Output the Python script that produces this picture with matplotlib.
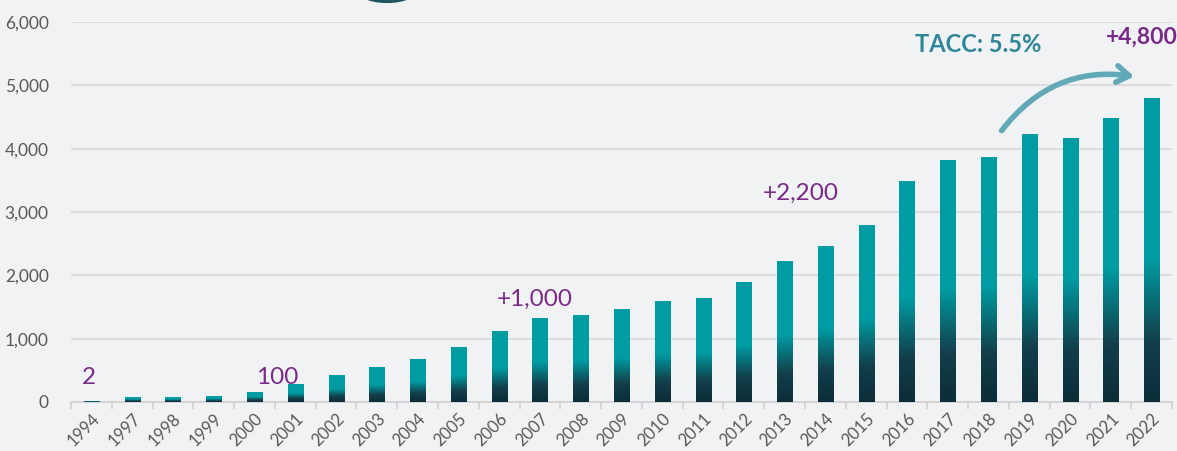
import numpy as np
import matplotlib
matplotlib.use("Agg")
import matplotlib.pyplot as plt
from matplotlib.colors import LinearSegmentedColormap
from matplotlib.patches import FancyArrowPatch, Ellipse

# data
years = ['1994', '1997', '1998', '1999', '2000', '2001', '2002', '2003', '2004',
         '2005', '2006', '2007', '2008', '2009', '2010', '2011', '2012', '2013',
         '2014', '2015', '2016', '2017', '2018', '2019', '2020', '2021', '2022']
values = [20, 85, 85, 95, 163, 285, 427, 553, 679,
          869, 1122, 1327, 1374, 1469, 1596, 1643, 1896, 2227,
          2464, 2796, 3491, 3823, 3870, 4234, 4171, 4487, 4802]

# labels placed over the bars: (text, x position in categories, y)
notes = [('2', -0.05, 380), ('100', 4.55, 380), ('+1,000', 10.88, 1620), ('+2,200', 17.4, 3290)]

bg = '#f1f2f4'
teal = '#009ca3'
dark = '#0b2d38'
purple = '#7a2a88'

plt.rcParams['font.family'] = ['Lato', 'DejaVu Sans']

fig = plt.figure(figsize=(11.77, 4.51), dpi=100, facecolor=bg)
ax = fig.add_axes([71 / 1177, 49 / 451, 1101 / 1177, 380 / 451])
ax.set_facecolor(bg)

x = np.arange(len(years))
bars = ax.bar(x, values, width=0.37, color=teal, zorder=3)

# vertical gradient inside each bar: dark at the base, teal above ~half height
cmap = LinearSegmentedColormap.from_list('g', [(0, dark), (0.2, '#123f4a'),
                                               (0.47, teal), (1, teal)])
grad = np.linspace(0, 1, 256).reshape(-1, 1)
for b in bars:
    x0, y0 = b.get_x(), b.get_y()
    w, h = b.get_width(), b.get_height()
    im = ax.imshow(grad, cmap=cmap, aspect='auto', origin='lower',
                   extent=[x0, x0 + w, y0, y0 + h], zorder=4)
    im.set_clip_path(b)

ax.set_xlim(-0.5, len(years) - 0.5)
ax.set_ylim(0, 6000)
ax.set_yticks(range(0, 6001, 1000))
ax.set_yticklabels([f'{v:,}' for v in range(0, 6001, 1000)])
ax.grid(axis='y', color='#d9d9dc', linewidth=1.2, zorder=0)

ax.set_xticks(x)
ax.set_xticklabels(years, rotation=45, ha='right', rotation_mode='anchor')
ax.set_xticks(np.arange(-0.5, len(years)), minor=True)
ax.tick_params(axis='x', which='major', length=0, pad=6, labelsize=12, labelcolor='#595959')
ax.tick_params(axis='x', which='minor', length=5, color='#d0d0d3', width=1.2)
ax.tick_params(axis='y', length=0, pad=16, labelsize=12.5, labelcolor='#595959')

for s in ['top', 'right', 'left']:
    ax.spines[s].set_visible(False)
ax.spines['bottom'].set_color('#d0d0d3')
ax.spines['bottom'].set_linewidth(1.2)

for txt, i, y in notes:
    ax.text(i, y, txt, color=purple, fontsize=17.5, ha='center', va='center', zorder=6)

ax.text(25.76, 5760, '+4,800', color=purple, fontsize=16.5, fontweight='bold',
        ha='center', va='center', zorder=6, clip_on=False)
ax.text(21.74, 5640, 'TACC: 5.5%', color='#2e8799', fontsize=17, fontweight='bold',
        ha='center', va='center', zorder=6)

arrow = FancyArrowPatch((22.28, 4250), (25.64, 5134), connectionstyle='arc3,rad=-0.3',
                        arrowstyle='->,head_length=9,head_width=6',
                        color='#62a9b8', linewidth=4, zorder=6, clip_on=False)
ax.add_patch(arrow)

# bit of a dark logo cut off at the top edge
fig.patches.append(Ellipse((387 / 1177, 465 / 451), 64 / 1177, 30 / 451,
                           transform=fig.transFigure, facecolor='none',
                           edgecolor='#1d5561', linewidth=3))

fig.savefig('out.png', dpi=100, facecolor=bg)
